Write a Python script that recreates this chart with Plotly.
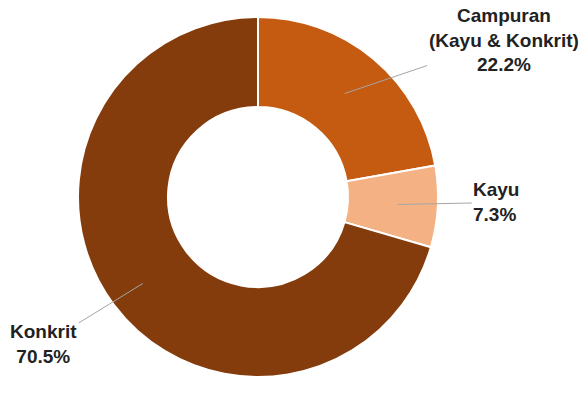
import numpy as np
import plotly.graph_objects as go

# -----------------------------
# Data
# -----------------------------
labels = ["Campuran<br>(Kayu & Konkrit)", "Kayu", "Konkrit"]
values = [22.2, 7.3, 70.5]
colors = ["#C55A11", "#F4B183", "#843C0C"]

# -----------------------------
# Geometry (pixels)
# -----------------------------
W, H = 585, 405
cx, cy, R = 258, 208, 180   # pie centre (from bottom) and radius

fig = go.Figure()
fig.add_trace(go.Pie(
    labels=labels,
    values=values,
    hole=0.5,
    sort=False,
    direction="clockwise",
    rotation=0,
    marker=dict(colors=colors, line=dict(color="#FFFFFF", width=2)),
    textinfo="none",
    hoverinfo="label+percent",
    showlegend=False,
    domain=dict(x=[(cx - R) / W, (cx + R) / W], y=[(cy - R) / H, (cy + R) / H]),
))

# -----------------------------
# Labels with leader lines
# -----------------------------
cum = np.cumsum([0] + values[:-1])
mid = (cum + np.array(values) / 2) / sum(values) * 2 * np.pi
radius_frac = [0.75, 0.78, 0.8]
offsets = [(159, -54), (98, -2), (-99, 61)]
aligns = ["center", "left", "center"]

annotations = []
for lab, v, th, rf, (ax, ay), al in zip(labels, values, mid, radius_frac, offsets, aligns):
    px = cx + rf * R * np.sin(th)
    py = cy + rf * R * np.cos(th)
    lines = (lab + f"<br>{v:.1f}%").split("<br>")
    annotations.append(dict(
        x=px / W, y=py / H, xref="paper", yref="paper",
        ax=ax, ay=ay,
        text="<br>".join(f"<b>{t}</b>" for t in lines),
        showarrow=True, arrowhead=0, arrowwidth=1, arrowcolor="#A6A6A6",
        align=al,
        font=dict(family="Liberation Sans, Arial, sans-serif", size=19, color="#222222"),
    ))

fig.update_layout(
    width=W, height=H,
    margin=dict(l=0, r=0, t=0, b=0),
    paper_bgcolor="white",
    plot_bgcolor="white",
    annotations=annotations,
)

fig.write_html("out.html", config={"displayModeBar": False},
               post_script="document.body.style.margin='0px';")
